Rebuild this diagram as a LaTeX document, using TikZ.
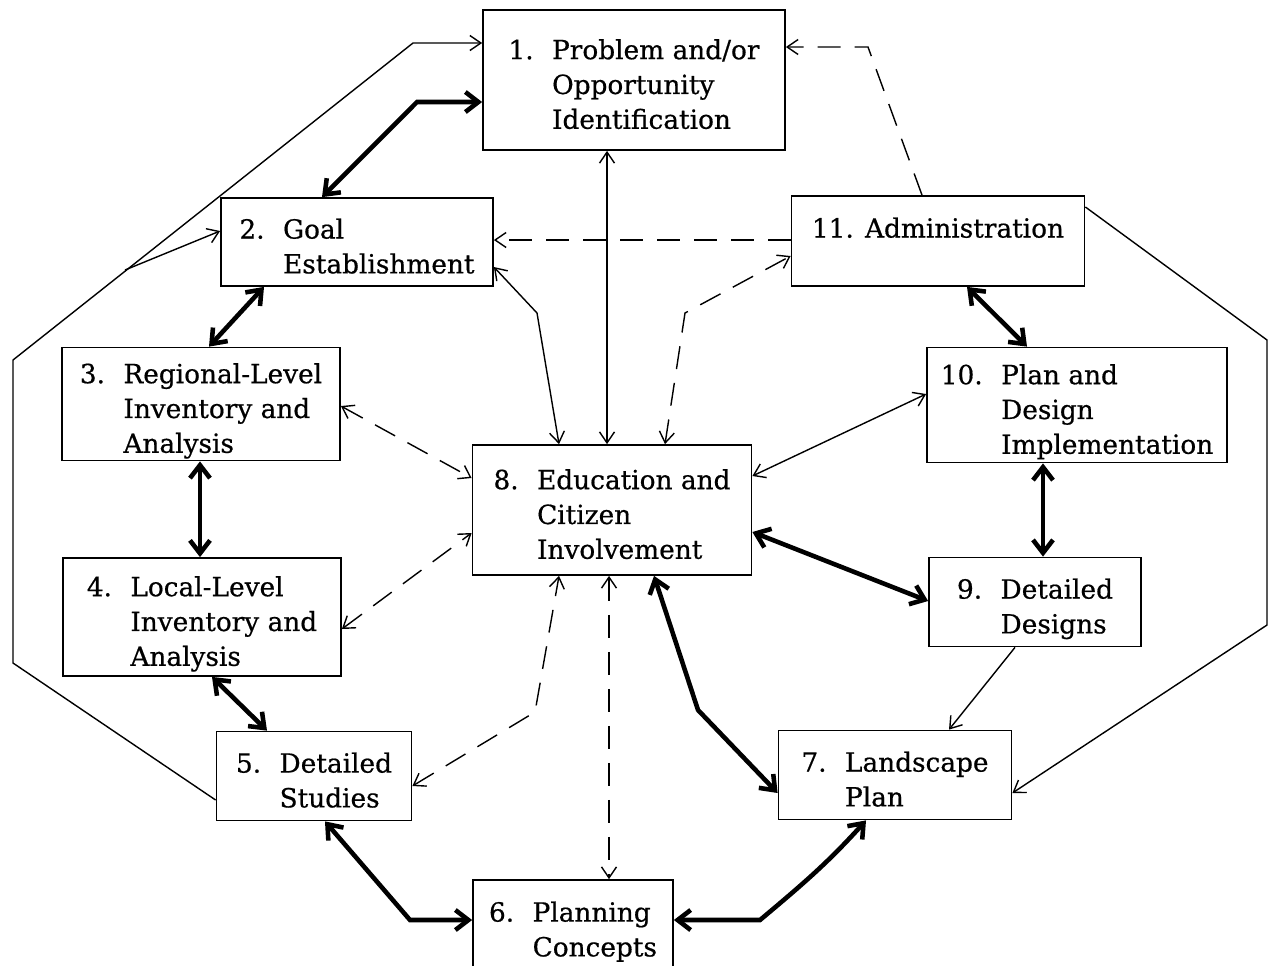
\documentclass[tikz,border=0pt]{standalone}
\usepackage{fontspec}
\setmainfont{DejaVu Serif}[FakeBold=0.6]
\usetikzlibrary{arrows.meta}

\newcommand{\steptext}[2]{\raisebox{-1.4mm}[\height][\depth]{\begin{tabular}{@{}l@{\hspace{0.7em}}l@{}}#1 & #2\end{tabular}}}

\tikzset{
  box/.style={draw, line width=1pt, inner sep=0pt},
  weak/.style={line width=0.8pt, >={Straight Barb[length=2.2mm,width=3mm]}},
  loose/.style={weak, dash pattern=on 4.6mm off 2.8mm},
  strong/.style={line width=2.6pt, >={Straight Barb[length=2.6mm,width=4mm]}}
}

\begin{document}
\begin{tikzpicture}[x=0.2mm,y=-0.2mm,every node/.style={font=\fontsize{15}{19.8}\selectfont}]
\useasboundingbox (0,0) rectangle (1268,965);
\node[box, minimum width=60.4mm, minimum height=28mm] (n1) at (634,80) {\steptext{1.}{Problem and/or\\ & Opportunity\\ & Identification}};
\node[box, minimum width=54.4mm, minimum height=17.6mm] (n2) at (357,242) {\steptext{2.}{Goal\\ & Establishment}};
\node[box, minimum width=58.6mm, minimum height=18mm] (n11) at (938,241) {\raisebox{-1.4mm}[\height][\depth]{\begin{tabular}{@{}l@{}}11. Administration\\ ~\end{tabular}}};
\node[box, minimum width=55.6mm, minimum height=22.6mm] (n3) at (201,404) {\steptext{3.}{Regional-Level\\ & Inventory and\\ & Analysis}};
\node[box, minimum width=60mm, minimum height=23mm] (n10) at (1077,405) {\steptext{10.}{Plan and\\ & Design\\ & Implementation}};
\node[box, minimum width=55.8mm, minimum height=26mm] (n8) at (612,510) {\steptext{8.}{Education and\\ & Citizen\\ & Involvement}};
\node[box, minimum width=55.6mm, minimum height=23.6mm] (n4) at (202,617) {\steptext{4.}{Local-Level\\ & Inventory and\\ & Analysis}};
\node[box, minimum width=42.4mm, minimum height=17.8mm] (n9) at (1035,602) {\steptext{9.}{Detailed\\ & Designs}};
\node[box, minimum width=39mm, minimum height=17.8mm] (n5) at (314,776) {\steptext{5.}{Detailed\\ & Studies}};
\node[box, minimum width=46.6mm, minimum height=17.8mm] (n7) at (895,775) {\steptext{7.}{Landscape\\ & Plan}};
\node[box, minimum width=40mm, minimum height=18mm] (n6) at (573,925) {\steptext{6.}{Planning\\ & Concepts}};

% outer frames
\coordinate (c1) at (413,43);
\coordinate (c2) at (13,360);
\coordinate (c3) at (13,663);
\coordinate (c4) at (125,270);
\draw[weak, ->] (n5.west |- 0,800) -- (c3) -- (c2) -- (c1) -- (n1.west |- c1);
\draw[weak, ->] (c4) -- (n2.west |- 0,231);
\coordinate (c5) at (1267,340);
\coordinate (c6) at (1267,625);
\draw[weak, ->] (n11.east |- 0,207) -- (c5) -- (c6) -- (n7.east |- 0,793);

% administration links
\coordinate (c7) at (868,47);
\draw[loose, ->] (n11.north -| 922,0) -- (c7) -- (n1.east |- c7);
\draw[loose, ->] (n11.west |- 0,240) -- (n2.east |- 0,240);
\coordinate (c10) at (685,313);
\draw[loose, <->] (n8.north -| 665,0) -- (c10) -- (n11.west |- 0,256);

% links to education
\draw[weak, <->] (n1.south -| 607,0) -- (n8.north -| 607,0);
\coordinate (c9) at (537,313);
\draw[weak, <->] (n2.east |- 0,267) -- (c9) -- (n8.north -| 559,0);
\draw[loose, <->] (n3.east |- 0,406) -- (n8.west |- 0,478);
\draw[loose, <->] (n4.east |- 0,629) -- (n8.west |- 0,533);
\coordinate (c11) at (535,712);
\draw[loose, <->] (n5.east |- 0,786) -- (c11) -- (n8.south -| 559,0);
\draw[loose, <->] (n8.south -| 609,0) -- (n6.north -| 609,0);
\draw[weak, <->] (n8.east |- 0,476) -- (n10.west |- 0,394);
\draw[strong, <->] (n8.east |- 0,532) -- (n9.west |- 0,601);
\coordinate (c14) at (698,710);
\draw[strong, <->] (n8.south -| 654,0) -- (c14) -- (n7.west |- 0,793);

% main cycle
\coordinate (c8) at (417,102);
\draw[strong, <->] (n1.west |- c8) -- (c8) -- (n2.north -| 322,0);
\draw[strong, <->] (n2.south -| 264,0) -- (n3.north -| 209,0);
\draw[strong, <->] (n3.south -| 200,0) -- (n4.north -| 200,0);
\draw[strong, <->] (n4.south -| 212,0) -- (n5.north -| 267,0);
\coordinate (c12) at (410,920);
\draw[strong, <->] (n5.south -| 325,0) -- (c12) -- (n6.west |- c12);
\coordinate (c13) at (760,920);
\draw[strong, <->] (n6.east |- c13) -- (c13) to[out=40,in=228] (n7.south -| 866,0);
\draw[weak, ->] (n9.south -| 1015,0) -- (n7.north -| 949,0);
\draw[strong, <->] (n10.south -| 1043,0) -- (n9.north -| 1043,0);
\draw[strong, <->] (n11.south -| 967,0) -- (n10.north -| 1027,0);
\end{tikzpicture}
\end{document}
